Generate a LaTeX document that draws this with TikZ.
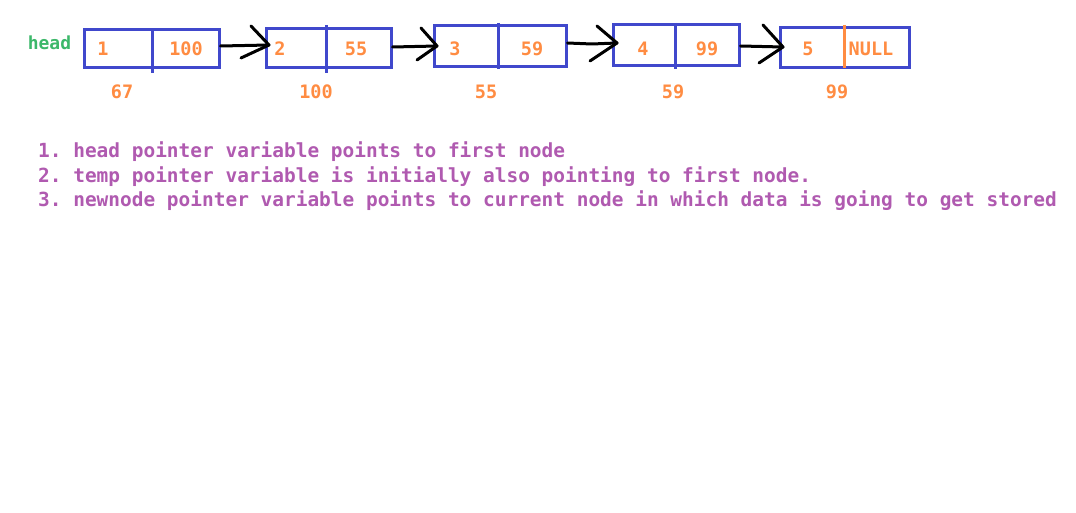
\documentclass[tikz,border=0pt]{standalone}
\usepackage{fontspec}
\setmonofont{DejaVu Sans Mono}
\usetikzlibrary{calc}
\definecolor{boxblue}{RGB}{64,72,204}
\definecolor{numorange}{RGB}{255,140,66}
\definecolor{notepurple}{RGB}{176,90,176}
\definecolor{headgreen}{RGB}{60,184,106}
\tikzset{
  cell/.style={draw=boxblue, line width=3pt, inner sep=0pt, fill=none},
  divider/.style={draw=boxblue, line width=3pt},
  nulldiv/.style={draw=numorange, line width=3pt},
  val/.style={text=numorange, font=\ttfamily\bfseries\fontsize{18.5}{20}\selectfont, anchor=base, inner sep=0pt},
  addr/.style={text=numorange, font=\ttfamily\bfseries\fontsize{18.5}{20}\selectfont, anchor=base, inner sep=0pt},
  note/.style={text=notepurple, font=\ttfamily\bfseries\fontsize{19.45}{22}\selectfont, anchor=base west, inner sep=0pt},
  link/.style={draw=black, line width=3pt, line cap=round, line join=round},
}
\begin{document}
\begin{tikzpicture}[x=1pt,y=-1pt]
\useasboundingbox[fill=white] (0,0) rectangle (1076,513);
% boxes
\node[cell, minimum width=135pt, minimum height=38pt] (b1) at (151.5,49) {};
\node[cell, minimum width=125pt, minimum height=39pt] (b2) at (328.5,48.5) {};
\node[cell, minimum width=132pt, minimum height=41pt] (b3) at (500,46.5) {};
\node[cell, minimum width=126pt, minimum height=41pt] (b4) at (676,45.5) {};
\node[cell, minimum width=129pt, minimum height=40pt] (b5) at (844.5,48) {};
% dividers
\draw[divider] (152,30) -- (152,73);
\draw[divider] (326,25) -- (326,73);
\draw[divider] (498,23) -- (498,69);
\draw[divider] (675,23) -- (675,69);
\draw[nulldiv] (844,25) -- (844,68);
% values
\node[val] (v1a) at (103,56) {1};
\node[val] (v1b) at (186,56) {100};
\node[val] (v2a) at (280,56) {2};
\node[val] (v2b) at (356,56) {55};
\node[val] (v3a) at (455,56) {3};
\node[val] (v3b) at (532,56) {59};
\node[val] (v4a) at (643,56) {4};
\node[val] (v4b) at (707,56) {99};
\node[val] (v5a) at (808,56) {5};
\node[val] (v5b) at (871,56) {NULL};
% addresses
\node[addr] (a1) at (122,99) {67};
\node[addr] (a2) at (316,99) {100};
\node[addr] (a3) at (486,99) {55};
\node[addr] (a4) at (673,99) {59};
\node[addr] (a5) at (837,99) {99};
% head
\node[text=headgreen, font=\ttfamily\bfseries\fontsize{18}{20}\selectfont, anchor=base, inner sep=0pt] (head) at (49.5,50) {head};
% arrows
\coordinate (t1) at (269,45);
\coordinate (t2) at (437,46);
\coordinate (t3) at (617,43);
\coordinate (t4) at (783,47);
\draw[link] (b1.east |- 0,46) -- (t1);
\draw[link] (251,26) -- (t1) -- (241,58);
\draw[link] (b2.east |- 0,47) -- (t2);
\draw[link] (421,28) -- (t2) -- (417,60);
\draw[link] (b3.east |- 0,43) -- (592,44) -- (t3);
\draw[link] (597,26) -- (t3) -- (590,61);
\draw[link] (b4.east |- 0,46) -- (t4);
\draw[link] (763,25) -- (t4) -- (759,63);
% notes
\node[note] (n1) at (38,158) {1. head pointer variable points to first node};
\node[note] (n2) at (38,183) {2. temp pointer variable is initially also pointing to first node.};
\node[note] (n3) at (38,207) {3. newnode pointer variable points to current node in which data is going to get stored};
\end{tikzpicture}
\end{document}
